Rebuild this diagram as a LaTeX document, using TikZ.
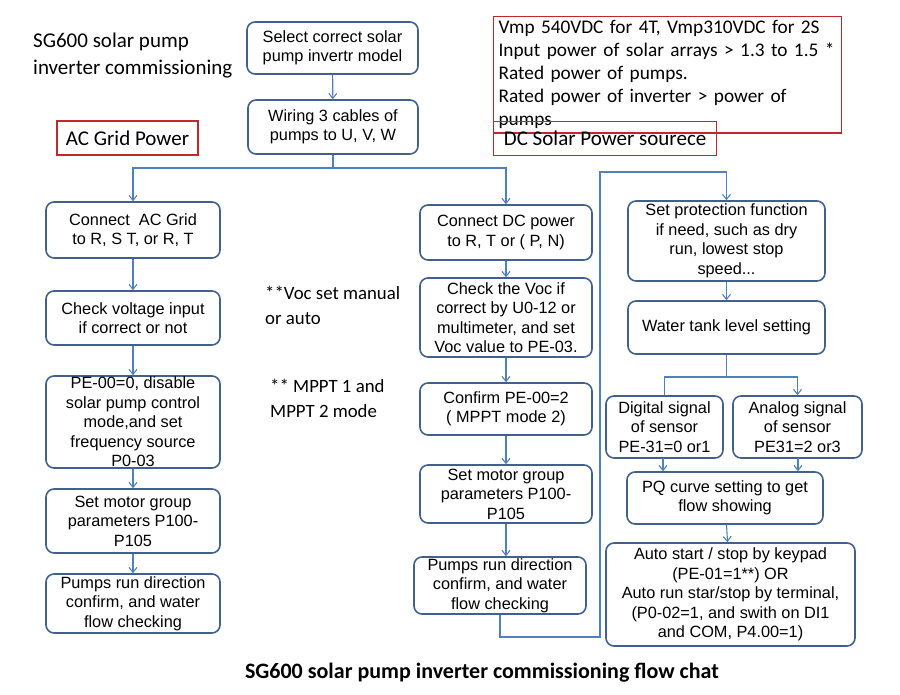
\documentclass[tikz,border=0pt]{standalone}
\usepackage{fontspec}
\setmainfont{Liberation Sans}
\newfontfamily\calfnt{Carlito}
\usetikzlibrary{arrows.meta}
\definecolor{bx}{HTML}{41618C}
\definecolor{ar}{HTML}{4F81BD}
\definecolor{rd}{HTML}{C0282E}
\begin{document}
\begin{tikzpicture}[x=1pt,y=-1pt,
 box/.style={draw=bx,line width=1.6pt,rounded corners=8pt,align=center,inner sep=0pt,font=\fontsize{16.3}{19.5}\selectfont},
 red/.style={draw=rd,line width=1.2pt,align=left,inner sep=4pt,font=\calfnt\fontsize{21}{23}\selectfont},
 note/.style={align=left,inner sep=0pt,font=\calfnt\fontsize{18.8}{25}\selectfont},
 arr/.style={draw=ar,line width=1.1pt,-{Straight Barb[length=5pt,width=8pt]}},
 ln/.style={draw=ar,line width=1.1pt}]
\useasboundingbox (0,0) rectangle (900,694);
% title
\node[note,anchor=north west,font=\calfnt\fontsize{21}{27}\selectfont] (title) at (33,33) {SG600 solar pump\\inverter commissioning};
% top
\node[box,minimum width=171,minimum height=52] (sel) at (332.5,48) {Select correct solar\\pump invertr model};
\node[box,minimum width=170,minimum height=54] (wir) at (333,127) {Wiring 3 cables of\\pumps to U, V, W};
\node[red,minimum width=141,minimum height=34] (ac) at (127.5,138) {AC Grid Power};
\node[red,anchor=north west,minimum width=348,minimum height=101,text width=338,font=\calfnt\fontsize{19.3}{23}\selectfont] (vmp) at (493,16) {Vmp 540VDC for 4T, Vmp310VDC for 2S\\Input power of solar arrays > 1.3 to 1.5 *\\Rated power of pumps.\\Rated power of inverter > power of pumps};
\node[red,anchor=north west,minimum width=223,minimum height=34] (dc) at (493,121) {DC Solar Power sourece};
% left column
\node[box,minimum width=174,minimum height=56] (l1) at (133,230) {Connect\ \ AC Grid\\to R, S T, or R, T};
\node[box,minimum width=174,minimum height=54] (l2) at (133,318) {Check voltage input\\if correct or not};
\node[box,minimum width=174,minimum height=92] (l3) at (133,422) {PE-00=0, disable\\solar pump control\\mode,and set\\frequency source\\P0-03};
\node[box,minimum width=174,minimum height=64] (l4) at (133,521) {Set motor group\\parameters P100-\\P105};
\node[box,minimum width=174,minimum height=59] (l5) at (133,603.5) {Pumps run direction\\confirm, and water\\flow checking};
% annotations
\node[note,anchor=north west] (n1) at (265,286) {**Voc set manual\\or auto};
\node[note,anchor=north west] (n2) at (270,379) {** MPPT 1 and\\MPPT 2 mode};
% middle column
\node[box,minimum width=172,minimum height=55] (m1) at (506,232.5) {Connect DC power\\to R, T or ( P, N)};
\node[box,minimum width=172,minimum height=79] (m2) at (506,317.5) {Check the Voc if\\correct by U0-12 or\\multimeter, and set\\Voc value to PE-03.};
\node[box,minimum width=172,minimum height=52] (m3) at (506,409) {Confirm PE-00=2\\( MPPT mode 2)};
\node[box,minimum width=172,minimum height=58] (m4) at (506,494) {Set motor group\\parameters P100-\\P105};
\node[box,minimum width=172,minimum height=57] (m5) at (500,585.5) {Pumps run direction\\confirm, and water\\flow checking};
% right column
\node[box,minimum width=197,minimum height=80] (r1) at (726.5,241) {Set protection function\\if need, such as dry\\run, lowest stop\\speed...};
\node[box,minimum width=197,minimum height=53] (r2) at (726.5,327.5) {Water tank level setting};
\node[box,minimum width=117,minimum height=62] (r3) at (664.5,427) {Digital signal\\of sensor\\PE-31=0 or1};
\node[box,minimum width=129,minimum height=62] (r4) at (797.5,427) {Analog signal\\of sensor\\PE31=2 or3};
\node[box,minimum width=196,minimum height=52] (r5) at (725,498) {PQ curve setting to get\\flow showing};
\node[box,minimum width=249,minimum height=103] (r6) at (730.5,594.5) {Auto start / stop by keypad\\(PE-01=1**) OR\\Auto run star/stop by terminal,\\(P0-02=1, and swith on DI1\\and COM, P4.00=1)};
% caption
\node[inner sep=0pt,font=\calfnt\bfseries\fontsize{22}{24}\selectfont] (cap) at (482,673) {SG600 solar pump inverter commissioning flow chat};
% connectors
\draw[arr] (sel) -- (wir);
\coordinate (j) at (333,168);
\draw[ln] (wir.south) -- (j);
\draw[arr] (j) -| (l1.north);
\draw[arr] (j) -| (m1.north);
\draw[arr] (l1) -- (l2);
\draw[arr] (l2) -- (l3);
\draw[arr] (l3) -- (l4);
\draw[arr] (l4) -- (l5);
\draw[arr] (m1) -- (m2);
\draw[arr] (m2) -- (m3);
\draw[arr] (m3) -- (m4);
\draw[arr] (m4.south) -- (m4.south |- m5.north);
\coordinate (b1) at (600,637);
\coordinate (b2) at (600,172);
\draw[arr] (m5.south) |- (b1) -- (b2) -| (r1.north);
\draw[arr] (r1) -- (r2);
\coordinate (s) at (726.5,377);
\draw[ln] (r2.south) -- (s);
\draw[ln] (s) -| (r3.north);
\draw[arr] (s) -| (r4.north);
\coordinate (d1) at (663,458);
\coordinate (d2) at (798,458);
\draw[arr] (d1) -- (d1 |- r5.north);
\draw[arr] (d2) -- (d2 |- r5.north);
\draw[arr] (r5) -- (r6);
\end{tikzpicture}
\end{document}
